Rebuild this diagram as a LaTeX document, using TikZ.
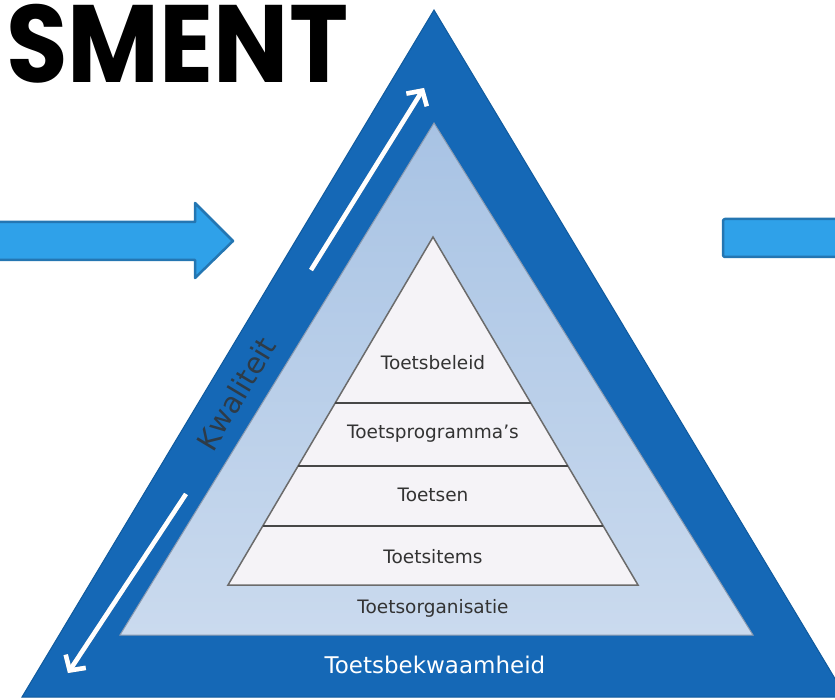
\documentclass[tikz,border=0pt]{standalone}
\usepackage{fontspec}
\setmainfont{DejaVu Sans}
\newfontfamily\headfont{Poppins}
\usetikzlibrary{calc,arrows.meta}

\definecolor{bandblue}{HTML}{1568B6}
\definecolor{bandedge}{HTML}{0F5A9E}
\definecolor{midtop}{HTML}{A8C3E4}
\definecolor{midbot}{HTML}{CADAEE}
\definecolor{midedge}{HTML}{8A9AB0}
\definecolor{pyrfill}{HTML}{F5F3F7}
\definecolor{pyredge}{HTML}{6B6B6B}
\definecolor{pyrline}{HTML}{474747}
\definecolor{labelgray}{HTML}{333333}
\definecolor{arrowfill}{HTML}{2FA1E9}
\definecolor{arrowedge}{HTML}{2476B2}

\begin{document}
\begin{tikzpicture}[x=1pt,y=-1pt,
        layer/.style={font=\fontsize{18.5}{21}\selectfont,text=labelgray},
        band/.style={fill=bandblue,draw=bandedge,line width=1pt},
        qarrow/.style={white,line width=4.5pt,-{Straight Barb[length=11pt,width=24pt]}},
        qshadow/.style={black!40,line width=4.5pt,-{Straight Barb[length=11pt,width=24pt]}},
        blockarrow/.style={fill=arrowfill,draw=arrowedge,line width=2.5pt,line join=round}]
\useasboundingbox (0,0) rectangle (835,700);
\clip (0,0) rectangle (835,700);

% heading
\node[anchor=base west,inner sep=0pt,font=\headfont\bfseries\fontsize{110}{110}\selectfont] (title) at (6,83) {\scalebox{0.91}[1]{SMENT}};

% blue block arrows
\draw[blockarrow] (-5,222) -- (195,222) -- (195,203) -- (233,241) -- (195,278) -- (195,260) -- (-5,260) -- cycle;
\draw[blockarrow,rounded corners=2pt] (723,219) rectangle (850,257);

% outer band and middle triangle
\draw[band] (434,10) -- (846,697) -- (22,697) -- cycle;
\shadedraw[top color=midtop,bottom color=midbot,draw=midedge,line width=1pt]
    (434,123) -- (753,635) -- (120,635) -- cycle;

% pyramid with its layers
\coordinate (apex) at (433,237);
\coordinate (bl) at (228,585);
\coordinate (br) at (638,585);
\draw[fill=pyrfill,draw=pyredge,line width=1.5pt] (apex) -- (br) -- (bl) -- cycle;
\foreach \t in {0.477,0.658,0.830}
    \draw[pyrline,line width=2.5pt] ($(apex)!\t!(bl)$) -- ($(apex)!\t!(br)$);

\node[layer] (beleid) at (433,363) {Toetsbeleid};
\node[layer] (programmas) at (433,434) {Toetsprogramma’s};
\node[layer] (toetsen) at (433,495) {Toetsen};
\node[layer] (items) at (433,557) {Toetsitems};
\node[layer] (organisatie) at (433,608) {Toetsorganisatie};
\node[font=\fontsize{23}{26}\selectfont,text=white] (bekwaamheid) at (435,665) {Toetsbekwaamheid};

% quality along the left side
\node[rotate=59,font=\fontsize{29}{30}\selectfont,text=labelgray!85!bandblue] (kwaliteit) at (236,394) {Kwaliteit};

\coordinate (upA) at (311,270);
\coordinate (upB) at (424,88);
\coordinate (dnA) at (186,494);
\coordinate (dnB) at (68,673);
\draw[qshadow,shift={(2,2)}] (upA) -- (upB);
\draw[qshadow,shift={(2,2)}] (dnA) -- (dnB);
\draw[qarrow] (upA) -- (upB);
\draw[qarrow] (dnA) -- (dnB);
\end{tikzpicture}
\end{document}
